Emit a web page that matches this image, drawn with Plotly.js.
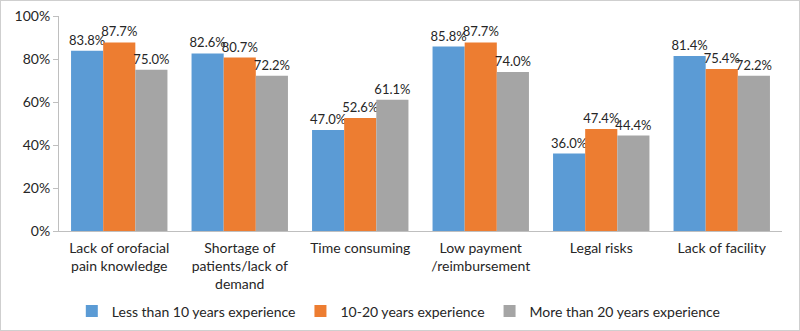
<!DOCTYPE html>
<html>
<head>
<meta charset="utf-8">
<script src="https://cdn.plot.ly/plotly-3.0.1.min.js"></script>
<style>
html,body{margin:0;padding:0;background:#fff;}
#wrap{position:relative;width:800px;height:331px;}
#chart{width:800px;height:331px;}
#frame{position:absolute;left:0;top:0;width:800px;height:331px;box-sizing:border-box;border:1px solid #cfcfcf;pointer-events:none;}
</style>
</head>
<body>
<div id="wrap"><div id="chart"></div><div id="frame"></div></div>
<script>
const categories = [
  "Lack of orofacial<br>pain knowledge",
  "Shortage of<br>patients/lack of<br>demand",
  "Time consuming",
  "Low payment<br>/reimbursement",
  "Legal risks",
  "Lack of facility"
];
const seriesNames = ["Less than 10 years experience", "10-20 years experience", "More than 20 years experience"];
const lessThan10 = [83.8, 82.6, 47.0, 85.8, 36.0, 81.4];
const from10to20 = [87.7, 80.7, 52.6, 87.7, 47.4, 75.4];
const moreThan20 = [75.0, 72.2, 61.1, 74.0, 44.4, 72.2];
const yTicks = [0, 20, 40, 60, 80, 100];
const yTickText = ["0%", "20%", "40%", "60%", "80%", "100%"];
const colors = ["#5B9BD5", "#ED7D31", "#A5A5A5"];

const FONT = "Lato, Open Sans, sans-serif";
const data = [lessThan10, from10to20, moreThan20].map((vals, i) => ({
  type: "bar",
  name: seriesNames[i],
  x: categories,
  y: vals,
  text: vals.map(v => v.toFixed(1) + "%"),
  textposition: "outside",
  constraintext: "none",
  cliponaxis: false,
  textfont: {family: FONT, size: 13, color: "#262626"},
  marker: {color: colors[i]},
  hoverinfo: "none"
}));

const layout = {
  width: 800, height: 331,
  margin: {l: 59, r: 18, t: 16, b: 100, autoexpand: false},
  paper_bgcolor: "#fff", plot_bgcolor: "#fff",
  barmode: "group",
  bargap: 0.2, bargroupgap: 0,
  font: {family: FONT, size: 13, color: "#262626"},
  showlegend: true,
  legend: {orientation: "h", x: 0.47, xanchor: "center", y: -0.30, yanchor: "top",
           font: {family: FONT, size: 14, color: "#262626"}, itemwidth: 30, traceorder: "normal"},
  xaxis: {showline: true, linecolor: "#bfbfbf", linewidth: 1, ticks: "", showgrid: false, automargin: false,
          tickfont: {family: FONT, size: 14, color: "#262626"}, ticklabelstandoff: 4},
  yaxis: {range: [0, 100], tickmode: "array", tickvals: yTicks, ticktext: yTickText, showgrid: false, zeroline: false,
          showline: true, linecolor: "#bfbfbf", linewidth: 1, ticks: "outside", ticklen: 5, tickcolor: "#bfbfbf",
          automargin: false, tickfont: {family: FONT, size: 14, color: "#262626"}}
};

Plotly.newPlot("chart", data, layout, {displayModeBar: false, staticPlot: true});
</script>
</body>
</html>
